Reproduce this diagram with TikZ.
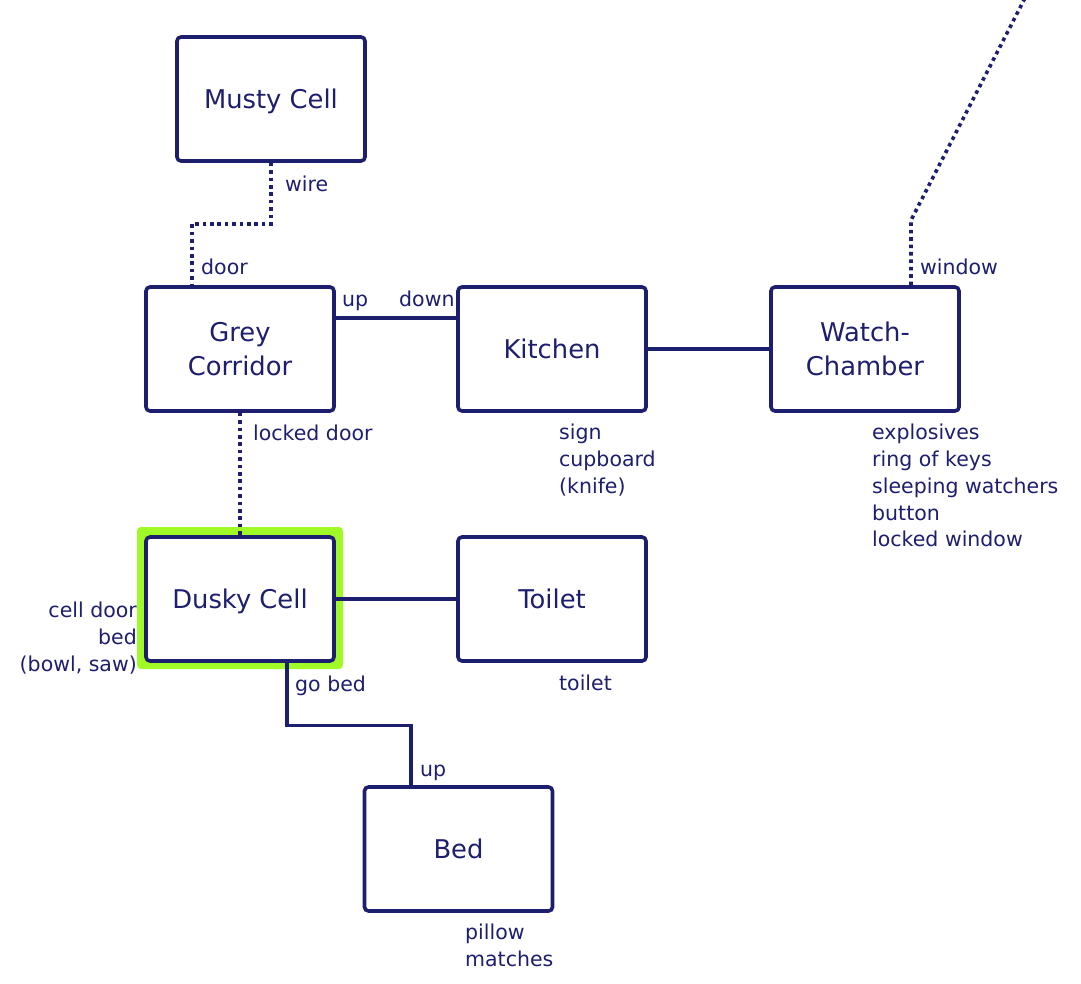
\documentclass[tikz,border=0pt]{standalone}
\usepackage{fontspec}
\setmainfont{DejaVu Sans}
\usetikzlibrary{calc}
\definecolor{navy}{RGB}{30,30,110}
\definecolor{hlgreen}{RGB}{160,250,40}
\tikzset{
  room/.style={draw=navy, line width=3.6pt, rounded corners=4pt, fill=white,
    minimum width=188pt, minimum height=124pt, inner sep=0pt, align=center,
    text=navy, font=\fontsize{25.8}{34}\selectfont},
  conn/.style={draw=navy, line width=3.2pt},
  dotconn/.style={draw=navy, line width=3.6pt, dash pattern=on 3.6pt off 3.8pt},
  lab/.style={text=navy, inner sep=0pt, font=\fontsize{20.5}{26.8}\selectfont, anchor=base west},
  labblock/.style={text=navy, inner sep=0pt, font=\fontsize{20.5}{26.8}\selectfont, anchor=north west, align=left},
}
\begin{document}
\begin{tikzpicture}[x=1pt,y=-1pt]
\useasboundingbox (0,0) rectangle (1081,984);
% highlight
\fill[hlgreen, rounded corners=4pt] (137,527) rectangle (343,669);
% rooms
\node[room, text depth=0pt] (musty) at (271,99) {Musty Cell};
\node[room] (grey) at (240,349) {Grey\\Corridor};
\node[room, text depth=0pt] (kitchen) at (552,349) {Kitchen};
\node[room] (watch) at (865,349) {Watch-\\Chamber};
\node[room, text depth=0pt] (dusky) at (240,599) {Dusky Cell};
\node[room] (toilet) at (552,599) {Toilet};
\node[room] (bed) at (458.5,849) {Bed};
% connectors
\draw[dotconn] (musty.south) -- ++(0,61) -| ([xshift=-48pt]grey.north);
\draw[conn] ([yshift=31pt]grey.east) -- ([yshift=31pt]kitchen.west);
\draw[conn] (kitchen.east) -- (watch.west);
\draw[dotconn] (grey.south) -- (dusky.north);
\draw[conn] (dusky.east) -- (toilet.west);
\draw[conn] ([xshift=47pt]dusky.south) -- ++(0,63) -| ([xshift=-47.5pt]bed.north);
\coordinate (offpage) at (1025,-2);
\draw[dotconn] ([xshift=46pt]watch.north) -- ++(0,-65) -- (offpage);
% connector labels
\node[lab] (lwire) at (285,192) {wire};
\node[lab] (ldoor) at (201,275) {door};
\node[lab] (lup1) at (342,306) {up};
\node[lab] (ldown) at (399,306) {down};
\node[lab] (llocked) at (253,440) {locked door};
\node[lab] (lwindow) at (920,275) {window};
\node[lab] (lgobed) at (295,691) {go bed};
\node[lab] (lup2) at (420,776) {up};
% object labels
\node[labblock] (okitchen) at (559,424) {sign\\cupboard\\(knife)};
\node[labblock] (owatch) at (872,424) {explosives\\ring of keys\\sleeping watchers\\button\\locked window};
\node[labblock, anchor=north east, align=right] (odusky) at (137,602) {cell door\\bed\\(bowl, saw)};
\node[labblock] (otoilet) at (559,675) {toilet};
\node[labblock] (obed) at (465,924) {pillow\\matches};
\end{tikzpicture}
\end{document}
